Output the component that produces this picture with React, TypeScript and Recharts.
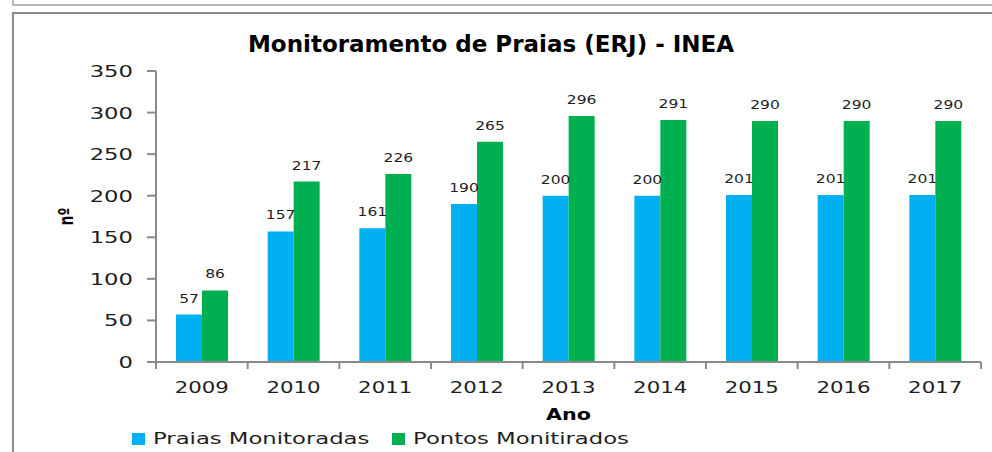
import { BarChart, Bar, XAxis, YAxis, LabelList, Legend, Label } from "recharts";

const years = ["2009", "2010", "2011", "2012", "2013", "2014", "2015", "2016", "2017"];
const praiasMonitoradas = [57, 157, 161, 190, 200, 200, 201, 201, 201];
const pontosMonitirados = [86, 217, 226, 265, 296, 291, 290, 290, 290];
const seriesNames = ["Praias Monitoradas", "Pontos Monitirados"];
const yTicks = [0, 50, 100, 150, 200, 250, 300, 350];

const data = years.map((ano, i) => ({
  ano,
  praias: praiasMonitoradas[i],
  pontos: pontosMonitirados[i],
}));

const BLUE = "#00b0f0";
const GREEN = "#00b050";
const AXIS = "#8a8a8a";
const INK = "#1e1e1e";
const FONT = "'DejaVu Sans', Verdana, sans-serif";
// the source picture is stretched sideways, so text is widened to match
const STRETCH = 1.42;
const X_TICK_GAP = 20;

function XTick(props: any) {
  const { x, y, payload, index, visibleTicksCount, width } = props;
  const n = visibleTicksCount || years.length;
  const half = (Number(width) || 825) / n / 2;
  const axisY = y - X_TICK_GAP;
  return (
    <g>
      <line x1={x - half} x2={x - half} y1={axisY} y2={axisY + 7} stroke={AXIS} strokeWidth={2} />
      {index === n - 1 && (
        <line x1={x + half} x2={x + half} y1={axisY} y2={axisY + 7} stroke={AXIS} strokeWidth={2} />
      )}
      <text
        transform={`translate(${x},${y + 11}) scale(${STRETCH},1)`}
        textAnchor="middle"
        fontSize={15}
        fill={INK}
        fontFamily={FONT}
      >
        {payload.value}
      </text>
    </g>
  );
}

function YTick(props: any) {
  const { x, y, payload } = props;
  return (
    <text
      transform={`translate(${x},${y + 6}) scale(${STRETCH},1)`}
      textAnchor="end"
      fontSize={16}
      fill={INK}
      fontFamily={FONT}
    >
      {payload.value}
    </text>
  );
}

function BarValue(props: any) {
  const { x, y, width, value } = props;
  const cx = Number(x) + Number(width) / 2;
  return (
    <text
      transform={`translate(${cx},${Number(y) - 12}) scale(1.35,1)`}
      textAnchor="middle"
      fontSize={11.5}
      fill={INK}
      fontFamily={FONT}
    >
      {value}
    </text>
  );
}

function AnoLabel(props: any) {
  const { x, y, width } = props.viewBox;
  return (
    <text
      transform={`translate(${x + width / 2},${y + 58}) scale(1.38,1)`}
      textAnchor="middle"
      fontSize={15}
      fontWeight="bold"
      fill="#000"
      fontFamily={FONT}
    >
      Ano
    </text>
  );
}

function NumLabel(props: any) {
  const { y, height } = props.viewBox;
  return (
    <text
      transform={`translate(66,${y + height / 2}) scale(${STRETCH},1) rotate(-90)`}
      textAnchor="middle"
      dominantBaseline="central"
      fontSize={14}
      fontWeight="bold"
      fill="#000"
      fontFamily={FONT}
    >
      nº
    </text>
  );
}

function LegendRow(props: any) {
  // keep series order, recharts sorts the payload by name
  const items = [...(props.payload || [])].sort(
    (a: any, b: any) => seriesNames.indexOf(a.value) - seriesNames.indexOf(b.value)
  );
  return (
    <div style={{ display: "flex" }}>
      {items.map((p: any) => (
        <div
          key={p.value}
          style={{ width: 260, height: 14, display: "flex", alignItems: "center" }}
        >
          <span style={{ width: 13, height: 12, background: p.color, display: "inline-block", flex: "none" }} />
          <span
            style={{
              marginLeft: 8,
              fontSize: 16,
              lineHeight: "14px",
              fontFamily: FONT,
              color: INK,
              whiteSpace: "nowrap",
              transform: `scaleX(${STRETCH})`,
              transformOrigin: "left center",
            }}
          >
            {p.value}
          </span>
        </div>
      ))}
    </div>
  );
}

export default function App() {
  return (
    <div
      style={{
        position: "absolute",
        left: 0,
        top: 0,
        width: 992,
        height: 452,
        overflow: "hidden",
        background: "#fff",
      }}
    >
      <div
        style={{
          position: "absolute",
          left: 12,
          top: -20,
          width: 1000,
          height: 26,
          boxSizing: "border-box",
          border: "2px solid #b8b8b8",
        }}
      />
      <div
        style={{
          position: "absolute",
          left: 12,
          top: 12,
          width: 1000,
          height: 460,
          boxSizing: "border-box",
          border: "2px solid #8c8c8c",
        }}
      />
      <div
        style={{
          position: "absolute",
          left: 0,
          top: 33,
          width: 982,
          textAlign: "center",
          fontFamily: FONT,
          fontWeight: "bold",
          fontSize: 23,
          lineHeight: "23px",
          color: "#000",
          whiteSpace: "nowrap",
        }}
      >
        Monitoramento de Praias (ERJ) - INEA
      </div>
      <div style={{ position: "absolute", left: 0, top: 0 }}>
        <BarChart
          width={992}
          height={452}
          data={data}
          margin={{ top: 71, right: 11, left: 0, bottom: 0 }}
          barCategoryGap={20}
          barGap={0}
        >
          <XAxis
            dataKey="ano"
            height={90}
            interval={0}
            tickSize={0}
            tickMargin={X_TICK_GAP}
            tickLine={false}
            axisLine={{ stroke: AXIS, strokeWidth: 2 }}
            tick={<XTick />}
            label={<Label content={AnoLabel} />}
          />
          <YAxis
            domain={[0, 350]}
            ticks={yTicks}
            interval={0}
            width={156}
            tickSize={9}
            tickMargin={14}
            axisLine={{ stroke: AXIS, strokeWidth: 2 }}
            tickLine={{ stroke: AXIS, strokeWidth: 2 }}
            tick={<YTick />}
            label={<Label content={NumLabel} />}
          />
          <Legend
            layout="horizontal"
            align="center"
            verticalAlign="middle"
            content={<LegendRow />}
            wrapperStyle={{ top: 432, left: 132, width: 700, margin: 0 }}
          />
          <Bar dataKey="praias" name={seriesNames[0]} fill={BLUE} isAnimationActive={false}>
            <LabelList dataKey="praias" content={<BarValue />} />
          </Bar>
          <Bar dataKey="pontos" name={seriesNames[1]} fill={GREEN} isAnimationActive={false}>
            <LabelList dataKey="pontos" content={<BarValue />} />
          </Bar>
        </BarChart>
      </div>
    </div>
  );
}
